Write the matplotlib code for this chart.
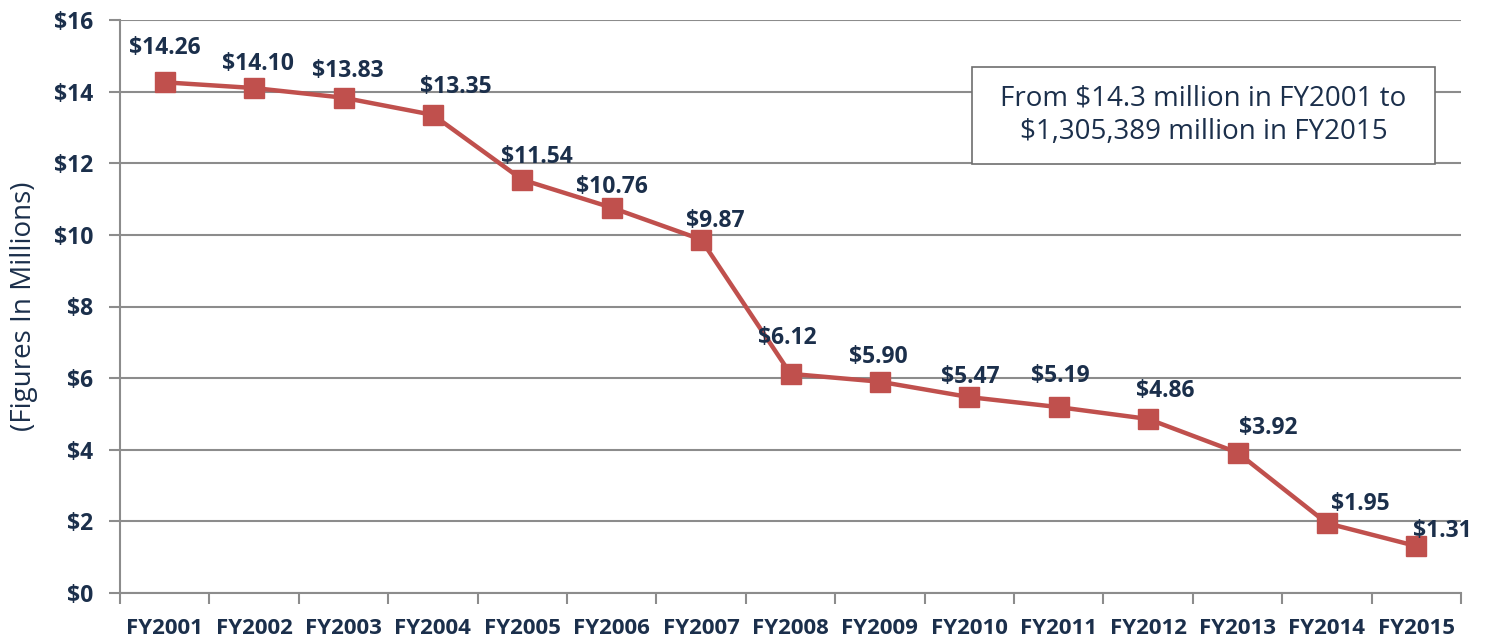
import matplotlib
matplotlib.use("Agg")
import matplotlib.pyplot as plt
from matplotlib.patches import Rectangle

categories = ["FY2001", "FY2002", "FY2003", "FY2004", "FY2005", "FY2006", "FY2007",
              "FY2008", "FY2009", "FY2010", "FY2011", "FY2012", "FY2013", "FY2014", "FY2015"]
values = [14.26, 14.10, 13.83, 13.35, 11.54, 10.76, 9.87, 6.12, 5.90, 5.47, 5.19, 4.86, 3.92, 1.95, 1.31]
yticks = [0, 2, 4, 6, 8, 10, 12, 14, 16]
note_text = "From $14.3 million in FY2001 to\n$1,305,389 million in FY2015"

# label offsets in pixels (style only)
label_offsets = [(0, 34), (4, 24), (4, 27), (23, 28), (15, 23), (0, 21), (14, 19), (-3, 36),
                 (-2, 25), (1, 20), (2, 31), (17, 28), (31, 25), (33, 19), (26, 15)]

navy = "#1B2F4B"
red = "#C0504D"
grid = "#8C8C8C"

plt.rcParams['font.family'] = ['Open Sans', 'DejaVu Sans']

fig = plt.figure(figsize=(14.88, 6.39), dpi=100)
ax = fig.add_axes([120/1488, 46/639, (1461-120)/1488, (593-20)/639])

x = list(range(len(categories)))
ax.plot(x, values, color=red, lw=3.2, marker='s', markersize=14, markerfacecolor=red,
        markeredgecolor=red, zorder=3)

for xi, v, (dx, dy) in zip(x, values, label_offsets):
    ax.annotate(f"${v:.2f}", (xi, v), xytext=(dx, dy), textcoords='offset pixels',
                ha='center', va='center', fontsize=16.5, fontweight='bold', color=navy, zorder=4)

ax.set_xlim(-0.5, len(categories) - 0.5)
ax.set_ylim(0, 16)
ax.set_yticks(yticks)
ax.set_yticklabels([f"${t}" for t in yticks], fontsize=16.5, fontweight='bold', color=navy)
ax.yaxis.grid(True, color=grid, lw=1.5)
ax.set_axisbelow(True)

ax.set_xticks(x)
ax.set_xticklabels(categories, fontsize=16, fontweight='bold', color=navy)
ax.tick_params(axis='x', which='major', length=0, pad=18)
ax.set_xticks([i - 0.5 for i in range(len(categories) + 1)], minor=True)
ax.tick_params(axis='x', which='minor', length=8, width=1.5, color=grid, direction='out')
ax.tick_params(axis='y', length=8, width=1.5, color=grid, pad=11)

for s in ['top', 'right']:
    ax.spines[s].set_visible(False)
for s in ['left', 'bottom']:
    ax.spines[s].set_color(grid)
    ax.spines[s].set_linewidth(1.5)

ax.set_ylabel("(Figures In Millions)", fontsize=20, color=navy)
ax.yaxis.set_label_coords((38 - 120) / 1341, 0.5)

# note box
bx0, bx1 = (972 - 120) / 1341, (1435 - 120) / 1341
by0, by1 = (593 - 164) / 573, (593 - 67) / 573
ax.add_patch(Rectangle((bx0, by0), bx1 - bx0, by1 - by0, transform=ax.transAxes,
                       facecolor='white', edgecolor='#6E6E6E', lw=1.2, zorder=5))
ax.text((bx0 + bx1) / 2, (by0 + by1) / 2, note_text, transform=ax.transAxes,
        ha='center', va='center', fontsize=20, color=navy, linespacing=1.25, zorder=6)

fig.savefig("out.png", dpi=100)
